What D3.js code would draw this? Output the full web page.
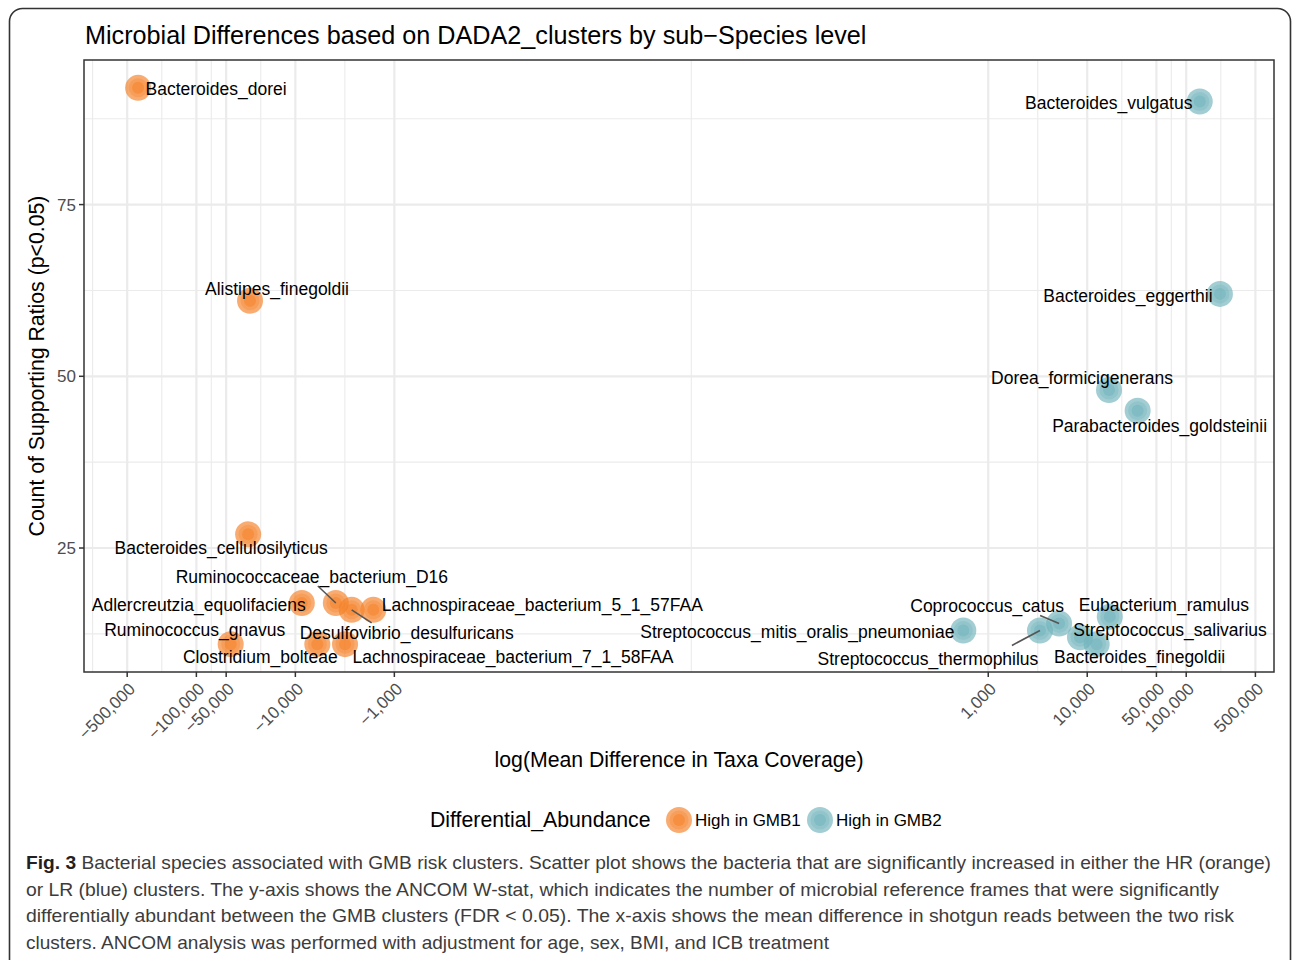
<!doctype html>
<html>
<head>
<meta charset="utf-8"/>
<style>
  html, body { margin: 0; padding: 0; background: #fff; }
  svg { display: block; }
  text { font-family: "Liberation Sans", Arial, Helvetica, sans-serif; }
  .caption text { font-family: "Liberation Sans Narrow", "Liberation Sans", sans-serif; }
</style>
<script src="https://d3js.org/d3.v7.min.js"></script>
</head>
<body>
<svg id="chart" width="1292" height="960"></svg>
<script>
// ---- data ----
var species = [
  "Bacteroides_dorei", "Alistipes_finegoldii", "Bacteroides_cellulosilyticus",
  "Adlercreutzia_equolifaciens", "Ruminococcaceae_bacterium_D16", "Desulfovibrio_desulfuricans",
  "Lachnospiraceae_bacterium_5_1_57FAA", "Ruminococcus_gnavus", "Clostridium_bolteae",
  "Lachnospiraceae_bacterium_7_1_58FAA",
  "Bacteroides_vulgatus", "Bacteroides_eggerthii", "Dorea_formicigenerans",
  "Parabacteroides_goldsteinii", "Streptococcus_mitis_oralis_pneumoniae", "Streptococcus_thermophilus",
  "Coprococcus_catus", "Eubacterium_ramulus", "Streptococcus_salivarius", "Bacteroides_finegoldii"
];
var meanDiff = [
  -388000, -28700, -30000, -8600, -3900, -2700, -1630, -45000, -6000, -3150,
  137000, 219000, 16600, 32300, 560, 3330, 5200, 16900, 8450, 12450
];
var wStat = [92, 61, 27, 17, 17, 16, 16, 11, 11, 11, 90, 62, 48, 45, 13, 13, 14, 15, 12, 11];
var abundance = [
  "High in GMB1", "High in GMB1", "High in GMB1", "High in GMB1", "High in GMB1",
  "High in GMB1", "High in GMB1", "High in GMB1", "High in GMB1", "High in GMB1",
  "High in GMB2", "High in GMB2", "High in GMB2", "High in GMB2", "High in GMB2",
  "High in GMB2", "High in GMB2", "High in GMB2", "High in GMB2", "High in GMB2"
];
var groups = ["High in GMB1", "High in GMB2"];
var xTicks = [-500000, -100000, -50000, -10000, -1000, 1000, 10000, 50000, 100000, 500000];
var yTicks = [25, 50, 75];

var titleText = "Microbial Differences based on DADA2_clusters by sub\u2212Species level";
var xTitle = "log(Mean Difference in Taxa Coverage)";
var yTitle = "Count of Supporting Ratios (p<0.05)";
var legendTitle = "Differential_Abundance";
var captionLines = [
  ["Fig. 3", " Bacterial species associated with GMB risk clusters. Scatter plot shows the bacteria that are significantly increased in either the HR (orange)"],
  ["", "or LR (blue) clusters. The y-axis shows the ANCOM W-stat, which indicates the number of microbial reference frames that were significantly"],
  ["", "differentially abundant between the GMB clusters (FDR < 0.05). The x-axis shows the mean difference in shotgun reads between the two risk"],
  ["", "clusters. ANCOM analysis was performed with adjustment for age, sex, BMI, and ICB treatment"]
];

// ---- label layout: offset of the label from its point, and (if any)
// where the connector meets the label, relative to the label centre (px) ----
var labelNudge = [
  [78, 1], [27, -12], [-27, 14], [-103, 2], [-24, -26, 6, 9], [55, 23, -35, -10],
  [169, -5], [-36, -14], [-57, 13], [168, 13],
  [-91, 1], [-92, 2], [-27, -12], [22, 15], [-166, 1], [-112, 28, 84, -13],
  [-72, -18, 53, 10], [54, -12], [90, -7], [43, 13]
];

var svg = d3.select("#chart");
var panel = {left: 84, right: 1274, top: 60, bottom: 672};

// signed log10 transform used by the x axis
function slog(v) { return Math.sign(v) * Math.log10(Math.abs(v)); }

var points = species.map(function(s, i) {
  return {name: s, x: meanDiff[i], y: wStat[i], group: abundance[i], nudge: labelNudge[i]};
});

function expand(ext) {
  var d = (ext[1] - ext[0]) * 0.05;
  return [ext[0] - d, ext[1] + d];
}
var x = d3.scaleLinear()
    .domain(expand(d3.extent(points, function(d) { return slog(d.x); })))
    .range([panel.left, panel.right]);
var y = d3.scaleLinear()
    .domain(expand(d3.extent(points, function(d) { return d.y; })))
    .range([panel.bottom, panel.top]);

var color = d3.scaleOrdinal().domain(groups).range(["#F58025", "#6FB2BB"]);

// minor breaks as ggplot does: midpoints between majors, extended one step
function minorBreaks(b, dom) {
  b = b.slice();
  var bd = b[1] - b[0];
  if (dom[0] < b[0]) b.unshift(b[0] - bd);
  if (dom[1] > b[b.length - 1]) b.push(b[b.length - 1] + bd);
  var out = [];
  for (var i = 0; i < b.length - 1; i++) out.push((b[i] + b[i + 1]) / 2);
  return out.filter(function(v) { return v > dom[0] && v < dom[1]; });
}

// outer frame
svg.append("rect")
    .attr("x", 9.5).attr("y", 8.5).attr("width", 1281).attr("height", 1000)
    .attr("rx", 13).attr("fill", "none").attr("stroke", "#333").attr("stroke-width", 1.6);

// title
svg.append("text")
    .attr("x", panel.left + 1).attr("y", 44)
    .attr("font-size", 25.2).attr("fill", "#000")
    .text(titleText);

var g = svg.append("g");
var tTicks = xTicks.map(slog);

// grid
var grid = g.append("g").attr("stroke", "#EBEBEB").attr("fill", "none");
minorBreaks(tTicks, x.domain()).forEach(function(t) {
  grid.append("line").attr("x1", x(t)).attr("x2", x(t))
      .attr("y1", panel.top).attr("y2", panel.bottom).attr("stroke-width", 1.1);
});
minorBreaks(yTicks, y.domain()).forEach(function(v) {
  grid.append("line").attr("y1", y(v)).attr("y2", y(v))
      .attr("x1", panel.left).attr("x2", panel.right).attr("stroke-width", 1.1);
});
tTicks.forEach(function(t) {
  grid.append("line").attr("x1", x(t)).attr("x2", x(t))
      .attr("y1", panel.top).attr("y2", panel.bottom).attr("stroke-width", 2.2);
});
yTicks.forEach(function(v) {
  grid.append("line").attr("y1", y(v)).attr("y2", y(v))
      .attr("x1", panel.left).attr("x2", panel.right).attr("stroke-width", 2.2);
});

// points: layered translucent discs
function drawDot(sel, col) {
  sel.append("circle").attr("r", 13).attr("fill", col).attr("fill-opacity", 0.65);
  sel.append("circle").attr("r", 9.5).attr("fill", col).attr("fill-opacity", 0.3);
  sel.append("circle").attr("r", 6).attr("fill", col).attr("fill-opacity", 0.5);
}
var dots = g.append("g")
  .selectAll("g").data(points).enter().append("g")
    .attr("transform", function(d) { return "translate(" + x(slog(d.x)) + "," + y(d.y) + ")"; });
dots.each(function(d) { drawDot(d3.select(this), color(d.group)); });

// connectors, then labels
var segG = g.append("g");
var labG = g.append("g");
points.forEach(function(d) {
  var px = x(slog(d.x)), py = y(d.y);
  var lx = px + d.nudge[0], ly = py + d.nudge[1];
  if (d.nudge.length > 2) {
    segG.append("line")
        .attr("x1", px).attr("y1", py)
        .attr("x2", lx + d.nudge[2]).attr("y2", ly + d.nudge[3])
        .attr("stroke", "#555").attr("stroke-width", 1.6);
  }
  labG.append("text")
      .attr("x", lx).attr("y", ly).attr("dy", "0.35em")
      .attr("text-anchor", "middle")
      .attr("font-size", 17.5).attr("fill", "#000")
      .text(d.name);
});

// panel border
g.append("rect")
    .attr("x", panel.left).attr("y", panel.top)
    .attr("width", panel.right - panel.left).attr("height", panel.bottom - panel.top)
    .attr("fill", "none").attr("stroke", "#333").attr("stroke-width", 1.5);

// y axis
var yAx = g.append("g");
yTicks.forEach(function(v) {
  yAx.append("line").attr("x1", panel.left - 5).attr("x2", panel.left)
      .attr("y1", y(v)).attr("y2", y(v)).attr("stroke", "#333").attr("stroke-width", 1.5);
  yAx.append("text").attr("x", panel.left - 8).attr("y", y(v)).attr("dy", "0.36em")
      .attr("text-anchor", "end").attr("font-size", 17).attr("fill", "#4D4D4D")
      .text(v);
});

// x axis
var fmt = d3.format(",");
var xAx = g.append("g");
xTicks.forEach(function(v) {
  var px = x(slog(v));
  xAx.append("line").attr("x1", px).attr("x2", px)
      .attr("y1", panel.bottom).attr("y2", panel.bottom + 5)
      .attr("stroke", "#333").attr("stroke-width", 1.5);
  xAx.append("text")
      .attr("transform", "translate(" + (px + 9) + "," + (panel.bottom + 18) + ") rotate(-45)")
      .attr("text-anchor", "end").attr("font-size", 17).attr("fill", "#4D4D4D")
      .text(fmt(v).replace("-", "\u2212"));
});

// axis titles
svg.append("text")
    .attr("x", (panel.left + panel.right) / 2).attr("y", 767)
    .attr("text-anchor", "middle").attr("font-size", 21.25).attr("fill", "#000")
    .text(xTitle);
svg.append("text")
    .attr("transform", "translate(44," + (panel.top + panel.bottom) / 2 + ") rotate(-90)")
    .attr("text-anchor", "middle").attr("font-size", 21.25).attr("fill", "#000")
    .text(yTitle);

// legend
var leg = svg.append("g").attr("transform", "translate(0,820)");
leg.append("text").attr("x", 430).attr("y", 0).attr("dy", "0.35em")
    .attr("font-size", 21.25).attr("fill", "#000").text(legendTitle);
var legX = [679, 820];
groups.forEach(function(gr, i) {
  var k = leg.append("g").attr("transform", "translate(" + legX[i] + ",0)");
  drawDot(k, color(gr));
  leg.append("text").attr("x", legX[i] + 16).attr("y", 0).attr("dy", "0.35em")
      .attr("font-size", 17).attr("fill", "#000").text(gr);
});

// caption
var capWidths = [1245, 1193, 1208, 803];
var cap = svg.append("g").attr("class", "caption");
captionLines.forEach(function(line, i) {
  var t = cap.append("text").attr("x", 26).attr("y", 869 + i * 26.7)
      .attr("font-size", 18.6).attr("fill", "#3C3C3C")
      .attr("textLength", capWidths[i]).attr("lengthAdjust", "spacingAndGlyphs");
  if (line[0]) t.append("tspan").attr("font-weight", "bold").attr("fill", "#231F20").text(line[0]);
  t.append("tspan").text(line[1]);
});
</script>
</body>
</html>
